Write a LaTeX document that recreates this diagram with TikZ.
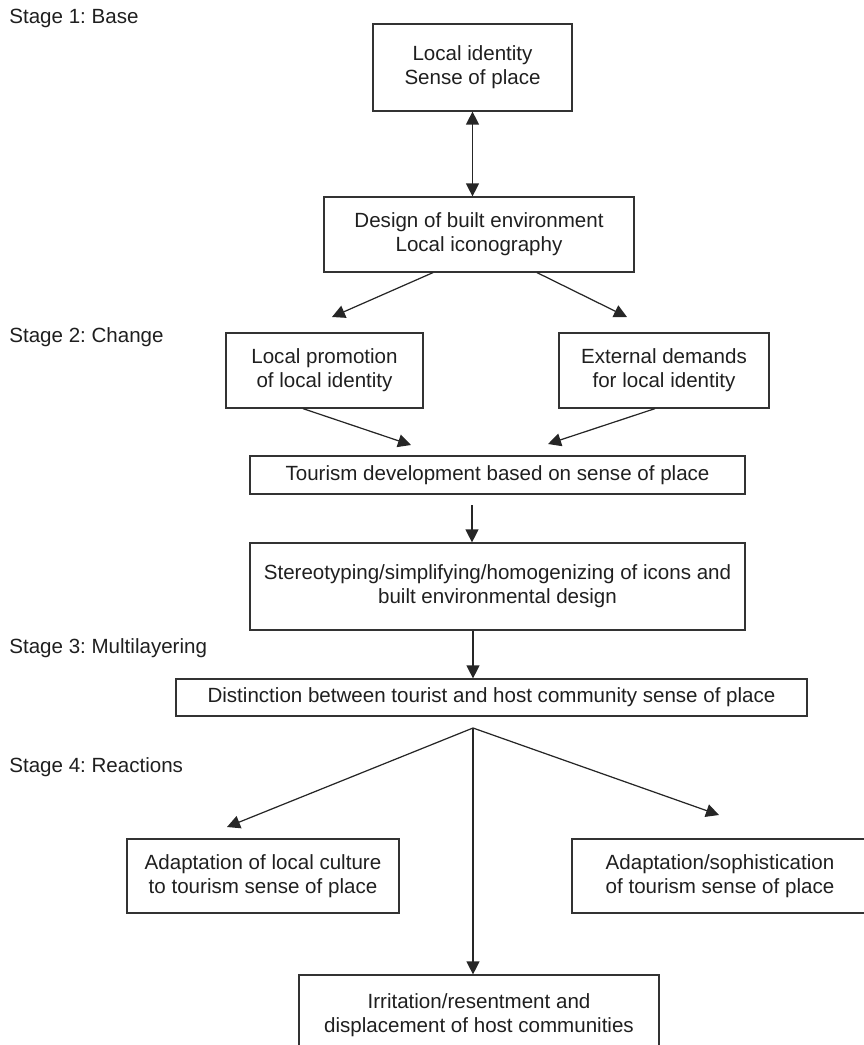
\documentclass[tikz,border=0pt]{standalone}
\usepackage{fontspec}
\setmainfont{Liberation Sans}
\usetikzlibrary{arrows.meta, calc}
\frenchspacing

\tikzset{
    >={Triangle[length=0.26cm, width=0.26cm]},
    every node/.style={font=\fontsize{11.7}{13.7}\selectfont, text=black!88},
    box/.style n args={2}{draw=black!80, line width=0.7pt, align=center, inner sep=0pt,
        minimum width=#1, minimum height=#2},
    stage/.style={anchor=base west, inner sep=0pt},
    link/.style={draw=black!85, line width=0.7pt}
}

\begin{document}
\begin{tikzpicture}[x=0.02cm, y=-0.02cm]
            \useasboundingbox (0,0) rectangle (864,1045);
            \clip (0,0) rectangle (864,1045);
            \node [stage] (S1) at (9,23) {Stage 1: Base};
            \node [stage] (S2) at (9,342) {Stage 2: Change};
            \node [stage] (S3) at (9,653) {Stage 3: Multilayering};
            \node [stage] (S4) at (9,772) {Stage 4: Reactions};
            \node [box={3.98cm}{1.74cm}] (B1) at (472.5,67.5) {Local identity\\Sense of place};
            \node [box={6.2cm}{1.5cm}] (B2) at (479,234.5) {Design of built environment\\Local iconography};
            \node [box={3.94cm}{1.5cm}] (B3) at (324.5,370.5) {Local promotion\\of local identity};
            \node [box={4.2cm}{1.5cm}] (B4) at (664,370.5) {External demands\\for local identity};
            \node [box={9.9cm}{0.76cm}] (B5) at (497.5,475) {Tourism development based on sense of place};
            \node [box={9.9cm}{1.74cm}] (B6) at (497.5,586.5) {Stereotyping/simplifying/homogenizing of icons and\\built environmental design};
            \node [box={12.62cm}{0.74cm}] (B7) at (491.5,697.5) {Distinction between tourist and host community sense of place};
            \node [box={5.44cm}{1.48cm}] (B8) at (263,876) {Adaptation of local culture\\to tourism sense of place};
            \node [box={5.92cm}{1.48cm}] (B9) at (720,876) {Adaptation/sophistication\\of tourism sense of place};
            \node [box={7.2cm}{1.6cm}] (B10) at (479,1015) {Irritation/resentment and\\displacement of host communities};
            \coordinate (P) at (332,317);
            \coordinate (E) at (627,317);
            \coordinate (Q) at (411,445);
            \coordinate (D) at (548,444);
            \coordinate (T) at (472,505);
            \coordinate (F) at (473,728);
            \coordinate (L) at (227,827);
            \coordinate (R) at (719,815);
            \draw [link, <->] (B1.south) -- (B2.north -| B1.south);
            \draw [link, ->] ($(B2.south)+(-46,0)$) -- (P);
            \draw [link, ->] ($(B2.south)+(58,0)$) -- (E);
            \draw [link, ->] ($(B3.south)+(-21.5,0)$) -- (Q);
            \draw [link, ->] ($(B4.south)+(-9,0)$) -- (D);
            \draw [link, ->] (T) -- (B6.north -| T);
            \draw [link, ->] (B6.south -| F) -- (B7.north -| F);
            \foreach \Tip in {(L), (R), (B10.north -| F)}{
                \draw [link, ->] (F) -- \Tip;
            }
        \end{tikzpicture}
\end{document}
